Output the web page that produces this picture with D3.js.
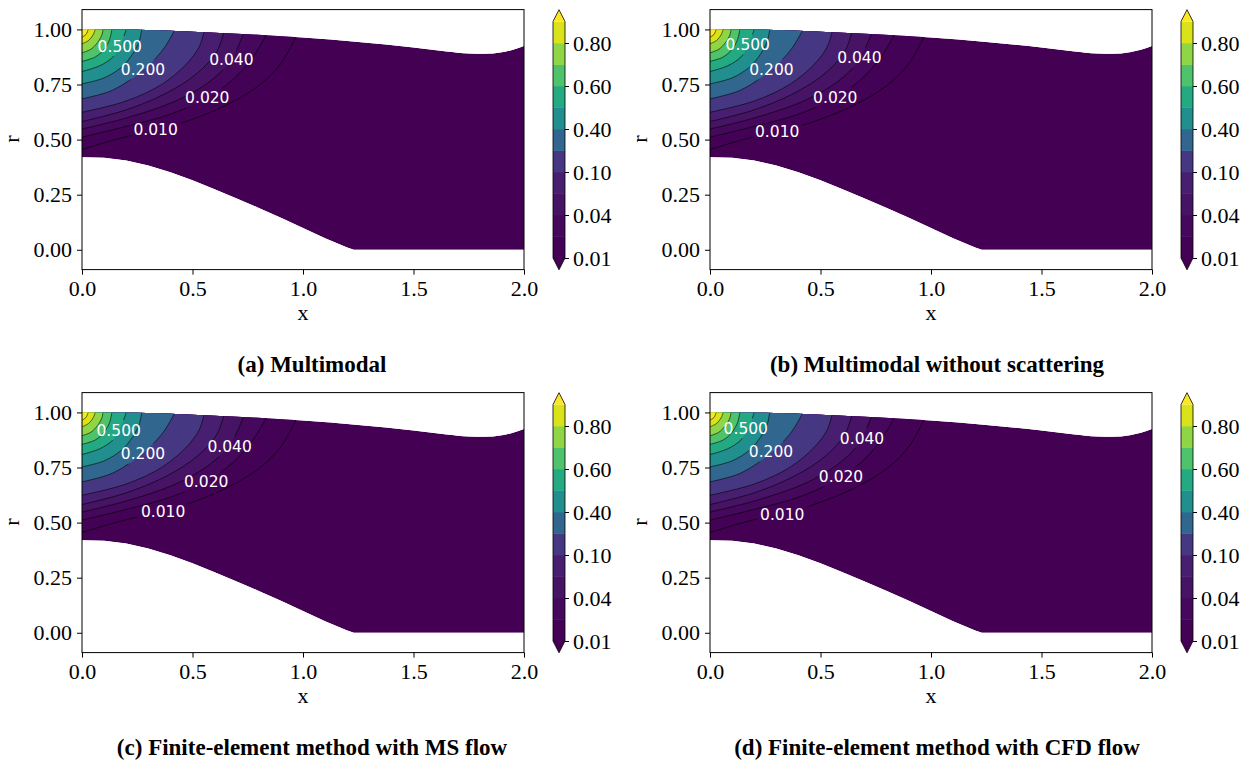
<!DOCTYPE html>
<html><head><meta charset="utf-8">
<script src="https://cdn.jsdelivr.net/npm/d3@7"></script>
<style>body{margin:0;background:#fff} svg{display:block}</style>
</head><body>
<svg id="chart" width="1254" height="763"></svg>
<script>
// ---------------- data ----------------
const levels = [0.01, 0.02, 0.04, 0.07, 0.1, 0.2, 0.4, 0.5, 0.6, 0.7, 0.8, 0.9];
const cbarTicks = [0.01, 0.04, 0.10, 0.40, 0.60, 0.80];
const xTicks = [0, 0.5, 1.0, 1.5, 2.0];
const rTicks = [0, 0.25, 0.5, 0.75, 1.0];
const captions = ["(a) Multimodal", "(b) Multimodal without scattering",
  "(c) Finite-element method with MS flow", "(d) Finite-element method with CFD flow"];

// duct walls (x, r)
const topWall = [[0,1.0],[0.25,0.998],[0.5,0.99],[0.75,0.978],[1.0,0.963],[1.25,0.943],[1.5,0.918],
  [1.65,0.9],[1.75,0.891],[1.82,0.89],[1.9,0.897],[1.95,0.908],[2.0,0.925]];
const bottomWall = [[0,0.42],[0.1,0.418],[0.2,0.405],[0.3,0.382],[0.4,0.352],[0.5,0.315],[0.6,0.275],
  [0.7,0.233],[0.8,0.19],[0.9,0.145],[1.0,0.099],[1.1,0.052],[1.2,0.01],[1.23,0],[2.0,0]];

// contour lines, one per level (same order as levels)
const contourLines = [
  [[0,0.455],[0.15,0.5],[0.333,0.545],[0.45,0.575],[0.65,0.655],[0.8,0.745],[0.9,0.845],[0.977,0.985]],
  [[0,0.511],[0.2,0.56],[0.4,0.615],[0.567,0.69],[0.68,0.77],[0.77,0.87],[0.842,0.99]],
  [[0,0.548],[0.2,0.598],[0.4,0.665],[0.52,0.725],[0.61,0.79],[0.676,0.863],[0.736,0.995]],
  [[0,0.582],[0.2,0.635],[0.38,0.71],[0.52,0.8],[0.61,0.9],[0.645,1.0]],
  [[0,0.624],[0.2,0.675],[0.36,0.75],[0.47,0.84],[0.53,0.92],[0.555,1.0]],
  [[0,0.685],[0.14,0.725],[0.276,0.816],[0.36,0.9],[0.405,0.97],[0.42,1.0]],
  [[0,0.753],[0.1,0.78],[0.18,0.83],[0.23,0.89],[0.26,0.95],[0.27,1.0]],
  [[0,0.809],[0.08,0.835],[0.14,0.875],[0.17,0.924],[0.19,0.97],[0.2,1.0]],
  [[0,0.855],[0.06,0.875],[0.1,0.91],[0.125,0.955],[0.135,1.0]],
  [[0,0.894],[0.04,0.91],[0.07,0.94],[0.09,0.975],[0.095,1.0]],
  [[0,0.935],[0.03,0.95],[0.05,0.975],[0.06,1.0]],
  [[0,0.965],[0.018,0.977],[0.028,1.0]]
];

// contour labels per panel: [level, x, r]
const labelsA = [[0.5,0.171,0.924],[0.2,0.276,0.818],[0.04,0.676,0.863],[0.02,0.567,0.690],[0.01,0.333,0.545]];
const labelsB = [[0.5,0.171,0.932],[0.2,0.278,0.818],[0.04,0.676,0.871],[0.02,0.567,0.693],[0.01,0.304,0.538]];
const labelsC = [[0.5,0.166,0.920],[0.2,0.276,0.813],[0.04,0.668,0.845],[0.02,0.562,0.686],[0.01,0.367,0.552]];
const labelsD = [[0.5,0.162,0.928],[0.2,0.276,0.822],[0.04,0.688,0.884],[0.02,0.593,0.709],[0.01,0.327,0.538]];
const panelLabels = [labelsA, labelsB, labelsC, labelsD];

// ---------------- drawing ----------------
const svg = d3.select("#chart");
const defs = svg.append("defs");
const SERIF = "'Liberation Serif', 'Times New Roman', serif";
const SANS = "'DejaVu Sans', sans-serif";

const vmin = levels[0], vmax = levels[levels.length - 1];
const bandColor = i => {
  if (i < 0) return d3.interpolateViridis(0);
  if (i >= levels.length - 1) return d3.interpolateViridis(1);
  const mid = (levels[i] + levels[i + 1]) / 2;
  return d3.interpolateViridis((mid - vmin) / (vmax - vmin));
};

const offsets = [[0, 0], [628, 0], [0, 383], [628, 383]];

offsets.forEach(([ox, oy], p) => {
  const x = d3.scaleLinear().domain([0, 2]).range([82 + ox, 524 + ox]);
  const y = d3.scaleLinear().domain([-0.09, 1.09]).range([269.6 + oy, 9.6 + oy]);
  const g = svg.append("g");

  const lineSmooth = d3.line().x(d => x(d[0])).y(d => y(d[1])).curve(d3.curveCatmullRom.alpha(0.5));
  const lineTop = d3.line().x(d => x(d[0])).y(d => y(d[1])).curve(d3.curveMonotoneX);
  const lineLin = d3.line().x(d => x(d[0])).y(d => y(d[1]));

  const ductPath = lineTop(topWall) + "L" + lineLin(bottomWall.slice().reverse()).slice(1) + "Z";
  const clipId = "duct" + p;
  defs.append("clipPath").attr("id", clipId).append("path").attr("d", ductPath);

  // filled contours
  const fills = g.append("g").attr("clip-path", `url(#${clipId})`);
  fills.append("path").attr("d", ductPath).attr("fill", bandColor(-1));
  contourLines.forEach((pts, i) => {
    const first = pts[0], last = pts[pts.length - 1];
    const d = "M" + x(-0.05) + "," + y(first[1]) + "L" + lineSmooth(pts).slice(1) +
      "L" + x(last[0]) + "," + y(1.3) + "L" + x(-0.05) + "," + y(1.3) + "Z";
    fills.append("path").attr("d", d).attr("fill", bandColor(i))
      .attr("stroke", bandColor(i)).attr("stroke-width", 0.3);
  });

  // contour lines with gaps at labels
  const labs = panelLabels[p];
  const lines = g.append("g").attr("clip-path", `url(#${clipId})`);
  contourLines.forEach((pts, i) => {
    const path = lines.append("path").attr("d", lineSmooth(pts))
      .attr("fill", "none").attr("stroke", "#000").attr("stroke-width", 0.7).attr("stroke-opacity", 0.85);
    const lab = labs.find(l => Math.abs(l[0] - levels[i]) < 1e-9);
    if (lab) {
      const mid = `m${p}_${i}`;
      const m = defs.append("mask").attr("id", mid).attr("maskUnits", "userSpaceOnUse")
        .attr("x", 0).attr("y", 0).attr("width", 1254).attr("height", 763);
      m.append("rect").attr("x", 0).attr("y", 0).attr("width", 1254).attr("height", 763).attr("fill", "#fff");
      m.append("rect").attr("x", x(lab[1]) - 25).attr("y", y(lab[2]) - 10)
        .attr("width", 50).attr("height", 20).attr("fill", "#000");
      path.attr("mask", `url(#${mid})`);
    }
  });
  // labels
  labs.forEach(l => {
    g.append("text").attr("x", x(l[1])).attr("y", y(l[2])).attr("dy", "0.36em")
      .attr("text-anchor", "middle").attr("fill", "#fff")
      .style("font-family", SANS).style("font-size", "15.5px")
      .text(d3.format(".3f")(l[0]));
  });

  // frame
  g.append("rect").attr("x", x(0)).attr("y", y(1.09)).attr("width", x(2) - x(0)).attr("height", y(-0.09) - y(1.09))
    .attr("fill", "none").attr("stroke", "#000").attr("stroke-width", 1);

  // axes
  const ax = g.append("g").attr("transform", `translate(0,${y(-0.09)})`)
    .call(d3.axisBottom(x).tickValues(xTicks).tickFormat(d3.format(".1f")).tickSize(5).tickPadding(6).tickSizeOuter(0));
  const ay = g.append("g").attr("transform", `translate(${x(0)},0)`)
    .call(d3.axisLeft(y).tickValues(rTicks).tickFormat(d3.format(".2f")).tickSize(5).tickPadding(5).tickSizeOuter(0));
  [ax, ay].forEach(a => {
    a.select(".domain").remove();
    a.selectAll("text").style("font-family", SERIF).style("font-size", "22px").attr("fill", "#000");
    a.selectAll("line").attr("stroke", "#000");
  });

  g.append("text").attr("x", (x(0) + x(2)) / 2).attr("y", 320 + oy).attr("text-anchor", "middle")
    .style("font-family", SERIF).style("font-size", "22px").text("x");
  g.append("text").attr("transform", `translate(${19 + ox},${139 + oy}) rotate(-90)`).attr("text-anchor", "middle")
    .style("font-family", SERIF).style("font-size", "22px").text("r");

  // colorbar
  const cx0 = 553 + ox, cx1 = 565 + ox, cxm = (cx0 + cx1) / 2;
  const cbY = d3.scaleLinear().domain([0, levels.length - 1]).range([258 + oy, 21.5 + oy]);
  const ext = 11.8;
  const cb = g.append("g");
  for (let i = 0; i < levels.length - 1; i++) {
    cb.append("rect").attr("x", cx0).attr("y", cbY(i + 1)).attr("width", cx1 - cx0)
      .attr("height", cbY(i) - cbY(i + 1) + 0.4).attr("fill", bandColor(i));
  }
  cb.append("path").attr("d", `M${cx0},${cbY(0)}L${cxm},${cbY(0) + ext}L${cx1},${cbY(0)}Z`).attr("fill", bandColor(-1));
  const top = cbY(levels.length - 1);
  cb.append("path").attr("d", `M${cx0},${top}L${cxm},${top - ext}L${cx1},${top}Z`).attr("fill", bandColor(99));
  cb.append("path").attr("d", `M${cx0},${cbY(0)}L${cxm},${cbY(0) + ext}L${cx1},${cbY(0)}L${cx1},${top}L${cxm},${top - ext}L${cx0},${top}Z`)
    .attr("fill", "none").attr("stroke", "#000").attr("stroke-width", 0.8);
  const tickIdx = cbarTicks.map(v => levels.findIndex(l => Math.abs(l - v) < 1e-9));
  const ac = cb.append("g").attr("transform", `translate(${cx1},0)`)
    .call(d3.axisRight(cbY).tickValues(tickIdx).tickFormat(i => d3.format(".2f")(levels[i])).tickSize(4).tickPadding(4).tickSizeOuter(0));
  ac.select(".domain").remove();
  ac.selectAll("text").style("font-family", SERIF).style("font-size", "22px").attr("fill", "#000");
  ac.selectAll("line").attr("stroke", "#000");

  // caption
  svg.append("text").attr("x", (p % 2 === 0 ? 312 : 937)).attr("y", 372 + oy).attr("text-anchor", "middle")
    .style("font-family", SERIF).style("font-weight", "bold").style("font-size", "23px")
    .text(captions[p]);
});
</script>
</body></html>
